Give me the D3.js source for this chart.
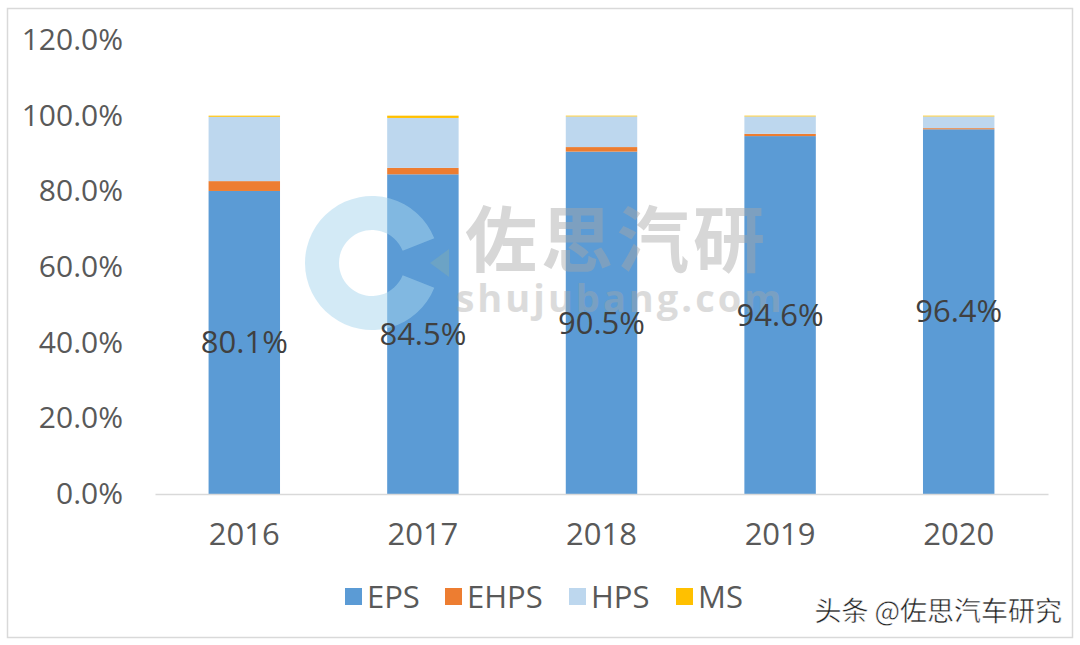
<!DOCTYPE html>
<html><head><meta charset="utf-8">
<script src="https://cdn.jsdelivr.net/npm/d3@7"></script>
<style>body{margin:0;background:#fff}svg{display:block}</style>
</head><body>
<svg id="c" width="1080" height="645"></svg>
<script>
const years = ["2016","2017","2018","2019","2020"];
const seriesNames = ["EPS","EHPS","HPS","MS"];
const EPS  = [80.1, 84.5, 90.5, 94.6, 96.4];
const EHPS = [2.6, 1.7, 1.2, 0.6, 0.3];
const HPS  = [17.0, 13.2, 8.1, 4.6, 3.1];
const MS   = [0.3, 0.6, 0.2, 0.2, 0.2];
const yTicks = [0, 20, 40, 60, 80, 100, 120];
const colors = ["#5b9bd5", "#ed7d31", "#bdd7ee", "#ffc000"];

const svg = d3.select("#c");
const font = "'Open Sans', 'Noto Sans', sans-serif";

svg.append("rect").attr("x", 7.5).attr("y", 8.5).attr("width", 1065).attr("height", 629)
  .attr("fill", "#fff").attr("stroke", "#d9d9d9").attr("stroke-width", 1.5);

const x = d3.scaleBand().domain(years).range([155, 1048]).paddingInner(0.6).paddingOuter(0.3);
const y = d3.scaleLinear().domain([0, 120]).range([494, 40]);

const rows = years.map((yr, i) => ({year: yr, EPS: EPS[i], EHPS: EHPS[i], HPS: HPS[i], MS: MS[i]}));
const stack = d3.stack().keys(seriesNames)(rows);

// y axis labels
const yAxis = d3.axisLeft(y).tickValues(yTicks).tickSize(0).tickPadding(0)
  .tickFormat(d => d.toFixed(1) + "%");
const gy = svg.append("g").attr("transform", "translate(123,0)").call(yAxis);
gy.select(".domain").remove();
gy.selectAll("text").attr("font-family", font).attr("font-size", 30).attr("fill", "#595959");

// bars
svg.append("g").selectAll("g").data(stack).join("g")
  .attr("fill", (d, i) => colors[i])
  .selectAll("rect").data(d => d).join("rect")
  .attr("x", d => x(d.data.year))
  .attr("width", x.bandwidth())
  .attr("y", d => y(d[1]))
  .attr("height", d => y(d[0]) - y(d[1]));

// x axis
const xAxis = d3.axisBottom(x).tickSize(0).tickPadding(29);
const gx = svg.append("g").attr("transform", "translate(0,494)").call(xAxis);
gx.select(".domain").attr("stroke", "#d9d9d9").attr("stroke-width", 1.5);
gx.selectAll("text").attr("font-family", font).attr("font-size", 31).attr("fill", "#595959");

// watermark
const wm = svg.append("g").attr("pointer-events", "none");
const cx = 372, cy = 263;
const ring = d3.arc().innerRadius(33).outerRadius(67).startAngle(0.62 * Math.PI).endAngle(2.38 * Math.PI);
wm.append("path").attr("d", ring()).attr("transform", `translate(${cx},${cy})`)
  .attr("fill", "#a8d6ee").attr("opacity", 0.5);
wm.append("path").attr("d", `M${cx+77},${cy-14} L${cx+77},${cy+14} L${cx+58},${cy} Z`)
  .attr("fill", "#7aa9b8").attr("opacity", 0.55);
wm.append("text").attr("x", 617).attr("y", 266).attr("text-anchor", "middle")
  .attr("font-family", "'Noto Sans CJK SC', sans-serif").attr("font-weight", 700)
  .attr("font-size", 72).attr("fill", "#a8a8a8").attr("opacity", 0.45).attr("letter-spacing", 4)
  .text("佐思汽研");
wm.append("text").attr("x", 620).attr("y", 312).attr("text-anchor", "middle")
  .attr("font-family", "'Open Sans', sans-serif").attr("font-weight", 700)
  .attr("font-size", 38).attr("fill", "#a8a8a8").attr("opacity", 0.4).attr("letter-spacing", 3)
  .text("shujubang.com");

// value labels (EPS)
svg.append("g").selectAll("text").data(stack[0]).join("text")
  .attr("x", d => x(d.data.year) + x.bandwidth() / 2)
  .attr("y", d => (y(d[0]) + y(d[1])) / 2)
  .attr("dy", "0.35em").attr("text-anchor", "middle")
  .attr("font-family", font).attr("font-size", 31).attr("fill", "#404040")
  .text(d => d.data.EPS.toFixed(1) + "%");

// legend
const legendX = [345, 445, 569, 676];
const lg = svg.append("g").selectAll("g").data(seriesNames).join("g")
  .attr("transform", (d, i) => `translate(${legendX[i]},588)`);
lg.append("rect").attr("width", 17).attr("height", 17).attr("fill", (d, i) => colors[i]);
lg.append("text").attr("x", 22).attr("y", 9).attr("dy", "0.35em")
  .attr("font-family", font).attr("font-size", 31).attr("fill", "#595959").text(d => d);

// source tag
svg.append("text").attr("x", 1062).attr("y", 621).attr("text-anchor", "end")
  .attr("font-family", "'Noto Sans CJK SC', sans-serif").attr("font-size", 27)
  .attr("fill", "#222").attr("stroke", "#fff").attr("stroke-width", 0.5)
  .text("头条 @佐思汽车研究");
</script>
</body></html>
